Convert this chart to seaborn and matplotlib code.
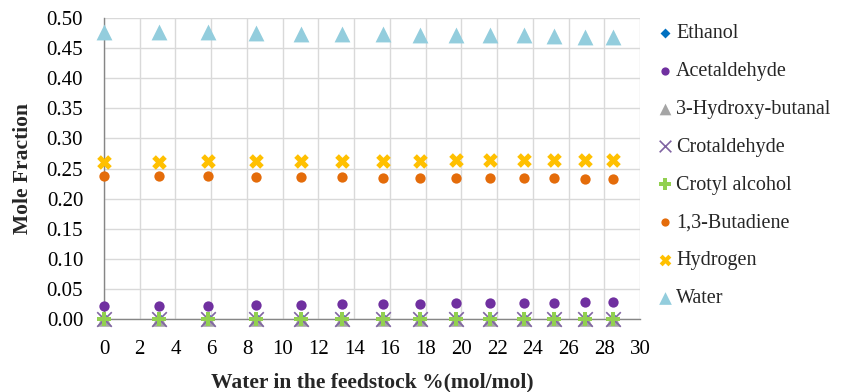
import matplotlib
matplotlib.use("Agg")
import matplotlib.pyplot as plt
import seaborn as sns
import pandas as pd

# Water content of the feed (%, mol/mol)
water_feed = [0, 3.1, 5.8, 8.5, 11.0, 13.3, 15.6, 17.7, 19.7, 21.6, 23.5, 25.2, 26.9, 28.5]

# Outlet mole fractions
ethanol = [0.0] * 14
acetaldehyde = [0.0216, 0.0216, 0.0221, 0.0238, 0.0238, 0.0244, 0.0250,
                0.0250, 0.0260, 0.0260, 0.0270, 0.0270, 0.0278, 0.0285]
hydroxy_butanal = [0.0] * 14
crotaldehyde = [0.0] * 14
crotyl_alcohol = [0.0] * 14
butadiene = [0.238, 0.237, 0.237, 0.236, 0.236, 0.236, 0.235,
             0.235, 0.235, 0.234, 0.234, 0.234, 0.233, 0.233]
hydrogen = [0.261, 0.261, 0.262, 0.262, 0.262, 0.263, 0.263,
            0.263, 0.264, 0.264, 0.264, 0.265, 0.265, 0.265]
water = [0.477, 0.476, 0.476, 0.475, 0.474, 0.474, 0.473,
         0.472, 0.472, 0.471, 0.471, 0.470, 0.469, 0.469]

series_names = ["Ethanol", "Acetaldehyde", "3-Hydroxy-butanal", "Crotaldehyde",
                "Crotyl alcohol", "1,3-Butadiene", "Hydrogen", "Water"]
series_values = [ethanol, acetaldehyde, hydroxy_butanal, crotaldehyde,
                 crotyl_alcohol, butadiene, hydrogen, water]

x_ticks = list(range(0, 31, 2))
y_ticks = [round(0.05 * i, 2) for i in range(11)]

# marker styles: (marker, colour, size, linewidth)
styles = {
    "Ethanol": ("D", "#0070C0", 40, 0),
    "Acetaldehyde": ("o", "#7030A0", 55, 0),
    "3-Hydroxy-butanal": ("^", "#A5A5A5", 110, 0),
    "Crotaldehyde": ("x", "#8064A2", 110, 1.2),
    "Crotyl alcohol": ("P", "#92D050", 110, 0),
    "1,3-Butadiene": ("o", "#E46C0A", 55, 0),
    "Hydrogen": ("X", "#FFC000", 110, 0),
    "Water": ("^", "#93CDDD", 130, 0),
}

frames = []
for name, vals in zip(series_names, series_values):
    frames.append(pd.DataFrame({"water": water_feed, "frac": vals, "species": name}))
df = pd.concat(frames, ignore_index=True)

sns.set_theme(style="white")
plt.rcParams["font.family"] = ["Liberation Serif", "DejaVu Serif"]

fig = plt.figure(figsize=(8.41, 3.92), dpi=100)
ax = fig.add_axes([0.1237, 0.186, 0.6373, 0.768])

for name in series_names:
    m, c, s, lw = styles[name]
    sub = df[df["species"] == name]
    sns.scatterplot(data=sub, x="water", y="frac", ax=ax, marker=m, color=c, s=s,
                    linewidth=lw, edgecolor=c if m != "x" else None,
                    label=name, clip_on=False, zorder=3)

ax.set_xlim(0, 30)
ax.set_ylim(0, 0.5)
ax.set_xticks(x_ticks)
ax.set_yticks(y_ticks)
ax.set_yticklabels([f"{v:.2f}" for v in y_ticks])
ax.grid(True, color="#D9D9D9", linewidth=1.0)
ax.set_axisbelow(True)
for side in ["top", "right"]:
    ax.spines[side].set_visible(False)
for side in ["left", "bottom"]:
    ax.spines[side].set_color("#868686")
    ax.spines[side].set_linewidth(1.0)
ax.tick_params(axis="both", which="major", direction="out", length=5, width=1,
               color="#868686", labelsize=15, labelcolor="black")
ax.tick_params(axis="y", pad=10)
ax.tick_params(axis="x", pad=10)

ax.set_xlabel("Water in the feedstock %(mol/mol)", fontsize=15.5, fontweight="bold", labelpad=10)
ax.set_ylabel("Mole Fraction", fontsize=15.5, fontweight="bold", labelpad=10)

leg = ax.legend(loc="upper left", bbox_to_anchor=(0.992, 1.04), frameon=False,
                fontsize=14.5, handletextpad=0.0, labelspacing=0.93,
                borderaxespad=0.5, handlelength=1.1, markerscale=0.8)

fig.savefig("out.png", dpi=100)
